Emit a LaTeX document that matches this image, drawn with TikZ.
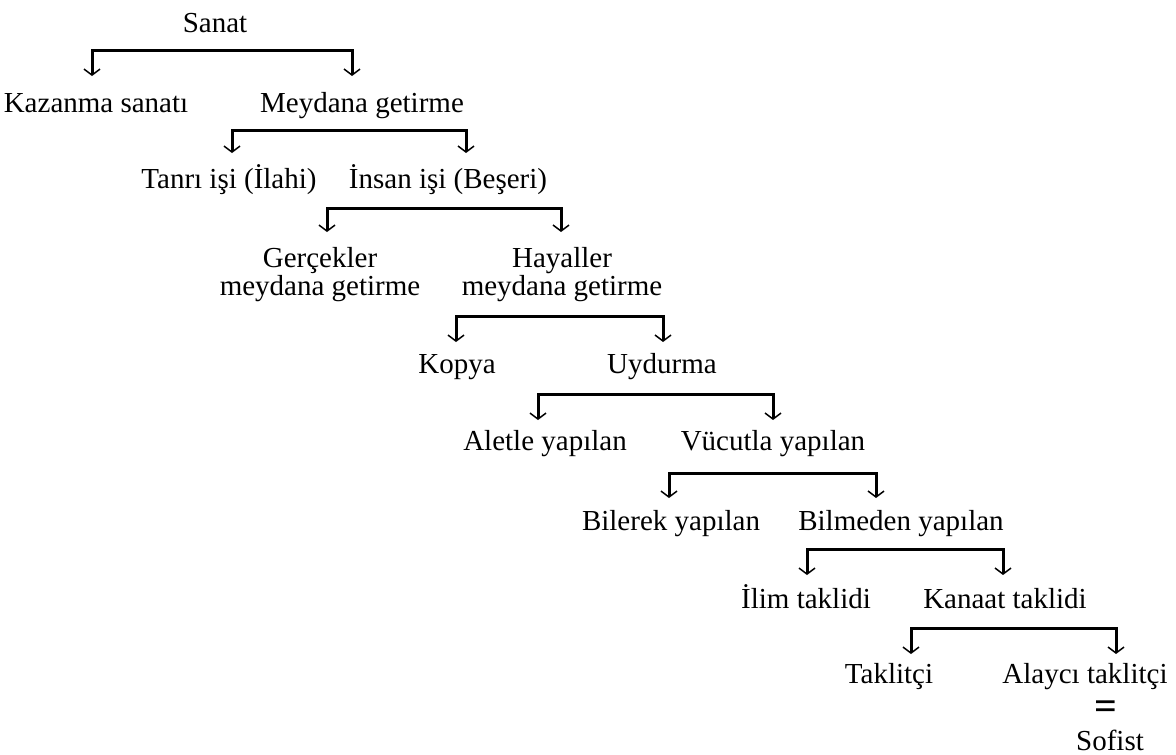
\documentclass[tikz,border=0pt]{standalone}
\usepackage{fontspec}
\setmainfont{Liberation Serif}
\usetikzlibrary{arrows.meta}

\tikzset{
	lbl/.style={anchor=base, inner sep=0pt, font=\fontsize{29}{28}\selectfont},
	lbltwo/.style={anchor=north, inner sep=0pt, align=center, font=\fontsize{29}{28}\selectfont},
	split/.style={line width=3pt, line join=miter,
		{Straight Barb[length=6pt,width=16pt,line width=1.5pt]}-{Straight Barb[length=6pt,width=16pt,line width=1.5pt]}}
}

\begin{document}
\begin{tikzpicture}[x=1pt, y=-1pt]
	\useasboundingbox (0,0) rectangle (1176,755);

	% labels
	\node [lbl] (sanat) at (215,32) {Sanat};
	\node [lbl] (kazanma) at (96,112) {Kazanma sanatı};
	\node [lbl] (meydana) at (362,112) {Meydana getirme};
	\node [lbl] (tanri) at (229,188) {Tanrı işi (İlahi)};
	\node [lbl] (insan) at (448,188) {İnsan işi (Beşeri)};
	\node [lbltwo] (gercek) at (320,247) {Gerçekler\\meydana getirme};
	\node [lbltwo] (hayal) at (562,247) {Hayaller\\meydana getirme};
	\node [lbl] (kopya) at (457,373) {Kopya};
	\node [lbl] (uydurma) at (662,373) {Uydurma};
	\node [lbl] (aletle) at (545,450) {Aletle yapılan};
	\node [lbl] (vucut) at (773,450) {Vücutla yapılan};
	\node [lbl] (bilerek) at (671,530) {Bilerek yapılan};
	\node [lbl] (bilmeden) at (901,530) {Bilmeden yapılan};
	\node [lbl] (ilim) at (806,608) {İlim taklidi};
	\node [lbl] (kanaat) at (1005,608) {Kanaat taklidi};
	\node [lbl] (taklitci) at (889,683) {Taklitçi};
	\node [lbl] (alayci) at (1085,683) {Alaycı taklitçi};
	\node [inner sep=0pt, font=\fontsize{40}{40}\selectfont\bfseries] (esit) at (1106,710) {=};
	\node [lbl] (sofist) at (1110,750) {Sofist};

	% arrow tips and bars
	\coordinate (t1a) at (92,76);   \coordinate (t1b) at (352,76);  \coordinate (b1) at (222,50);
	\coordinate (t2a) at (232,153); \coordinate (t2b) at (466,153); \coordinate (b2) at (349,130);
	\coordinate (t3a) at (327,232); \coordinate (t3b) at (561,232); \coordinate (b3) at (444,208);
	\coordinate (t4a) at (456,342); \coordinate (t4b) at (663,342); \coordinate (b4) at (560,316);
	\coordinate (t5a) at (538,420); \coordinate (t5b) at (773,420); \coordinate (b5) at (655,394);
	\coordinate (t6a) at (669,498); \coordinate (t6b) at (876,498); \coordinate (b6) at (772,473);
	\coordinate (t7a) at (807,575); \coordinate (t7b) at (1003,575); \coordinate (b7) at (905,549);
	\coordinate (t8a) at (911,654); \coordinate (t8b) at (1116,654); \coordinate (b8) at (1013,628);

	\foreach \i in {1,...,8}
		\draw [split] (t\i a) |- (b\i) -| (t\i b);
\end{tikzpicture}
\end{document}
